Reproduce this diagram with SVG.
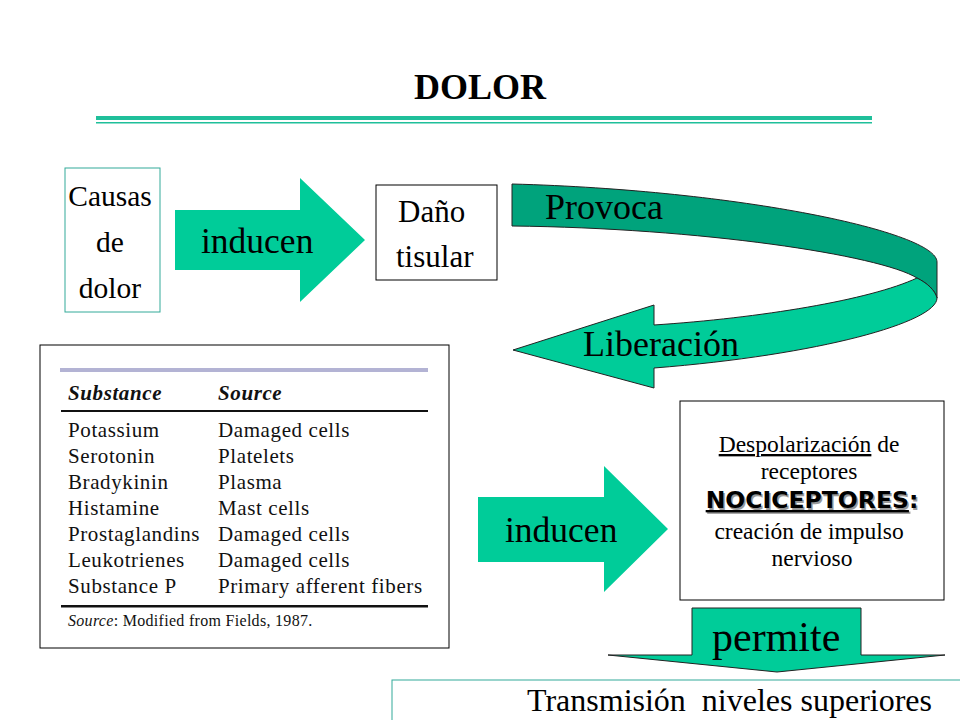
<svg xmlns="http://www.w3.org/2000/svg" width="960" height="720" viewBox="0 0 960 720">
<style>
.serif{font-family:"Liberation Serif","Times New Roman",serif;fill:#000}
.tbl{font-family:"Liberation Serif","Times New Roman",serif;font-size:21px;letter-spacing:0.6px;fill:#111}
.foot{font-family:"Liberation Serif","Times New Roman",serif;font-size:16px;letter-spacing:0.3px;fill:#111}
.green{fill:#00cc99;stroke:none}
.box{fill:#fff;stroke:#000;stroke-width:1}
.tbox{fill:#fff;stroke:#33aa99;stroke-width:1}
.sans{font-family:"DejaVu Sans","Liberation Sans",sans-serif;font-size:23.5px;font-weight:bold}
</style>
<rect width="960" height="720" fill="#fff"/>
<g id="title">
<text class="serif" x="480" y="99" font-size="36" font-weight="bold" text-anchor="middle">DOLOR</text>
<rect x="96" y="116" width="776" height="4" fill="#1fbf9a"/>
<rect x="96" y="122" width="776" height="1.5" fill="#1fbf9a"/>
</g>
<g id="causas">
<rect class="tbox" x="65" y="168" width="95" height="144"/>
<text class="serif" font-size="29.5" text-anchor="middle"><tspan x="110" y="206">Causas</tspan><tspan x="110" y="252">de</tspan><tspan x="110" y="298">dolor</tspan></text>
</g>
<g id="dano">
<rect class="box" x="376" y="185" width="121" height="95"/>
<text class="serif" font-size="31"><tspan x="398" y="222">Daño</tspan><tspan x="396" y="267">tisular</tspan></text>
</g>
<g id="connectors">
<g id="arrow-inducen-1">
<path class="green" d="M175,210 H300 V178 L365,240 L300,302 V270 H175 Z"/>
<text class="serif" x="201" y="253" font-size="35.5">inducen</text>
</g>
<g id="arrow-provoca">
<path d="M512,184 C740,190 937,232 937,262 L937,298 C935,290 927,283 917,278 C880,255 700,228 512,226 Z" fill="#00a37c" stroke="#222" stroke-width="1"/>
<path d="M917,278 C927,283 935,290 937,298 C937,322 820,355 654,368 L654,388 L513,350 L654,305 L654,325 C760,318 870,300 917,278 Z" fill="#00cc99" stroke="#222" stroke-width="1"/>
<text class="serif" x="545" y="219" font-size="36">Provoca</text>
<text class="serif" x="583" y="356" font-size="36">Liberación</text>
</g>
<g id="arrow-inducen-2">
<path class="green" d="M478,497 H604 V466 L668,529 L604,592 V562 H478 Z"/>
<text class="serif" x="505" y="542" font-size="35.5">inducen</text>
</g>
<g id="arrow-permite">
<path d="M692,608 H861 V655 H945 L777,672 L608,655 H692 Z" fill="#00cc99" stroke="#222" stroke-width="1"/>
<text class="serif" x="712" y="651" font-size="42">permite</text>
</g>
</g>
<g id="tabla">
<rect class="box" x="40" y="345" width="409" height="303"/>
<rect x="60" y="368" width="368" height="4" fill="#b3b3d4"/>
<text class="tbl" font-style="italic" font-weight="bold"><tspan x="68" y="400">Substance</tspan><tspan x="218" y="400">Source</tspan></text>
<rect x="61" y="410" width="367" height="2" fill="#111"/>
<text class="tbl"><tspan x="68" y="437">Potassium</tspan><tspan x="68" y="463">Serotonin</tspan><tspan x="68" y="489">Bradykinin</tspan><tspan x="68" y="515">Histamine</tspan><tspan x="68" y="541">Prostaglandins</tspan><tspan x="68" y="567">Leukotrienes</tspan><tspan x="68" y="593">Substance P</tspan></text>
<text class="tbl"><tspan x="218" y="437">Damaged cells</tspan><tspan x="218" y="463">Platelets</tspan><tspan x="218" y="489">Plasma</tspan><tspan x="218" y="515">Mast cells</tspan><tspan x="218" y="541">Damaged cells</tspan><tspan x="218" y="567">Damaged cells</tspan><tspan x="218" y="593">Primary afferent fibers</tspan></text>
<rect x="61" y="605" width="367" height="2.5" fill="#111"/>
<text class="foot" x="68" y="626"><tspan font-style="italic">Source</tspan>: Modified from Fields, 1987.</text>
</g>
<g id="nociceptores">
<rect class="box" x="680" y="401" width="264" height="199"/>
<text class="serif" font-size="23.5" text-anchor="middle">
<tspan x="812" y="452"><tspan text-decoration="underline">Despolarización</tspan> de</tspan>
<tspan x="812" y="479">receptores</tspan>
<tspan x="812" y="539">creación de impulso</tspan>
<tspan x="812" y="566">nervioso</tspan>
</text>
<text class="sans" x="812" y="508" text-anchor="middle" fill="#999" transform="translate(1.5,1.5)"><tspan text-decoration="underline">NOCICEPTORES</tspan>:</text>
<text class="sans" x="812" y="508" text-anchor="middle" fill="#000"><tspan text-decoration="underline">NOCICEPTORES</tspan>:</text>
</g>
<g id="transmision">
<rect class="tbox" x="392" y="680" width="580" height="50"/>
<text class="serif" x="527" y="711" font-size="32" xml:space="preserve">Transmisión  niveles superiores</text>
</g>
</svg>
